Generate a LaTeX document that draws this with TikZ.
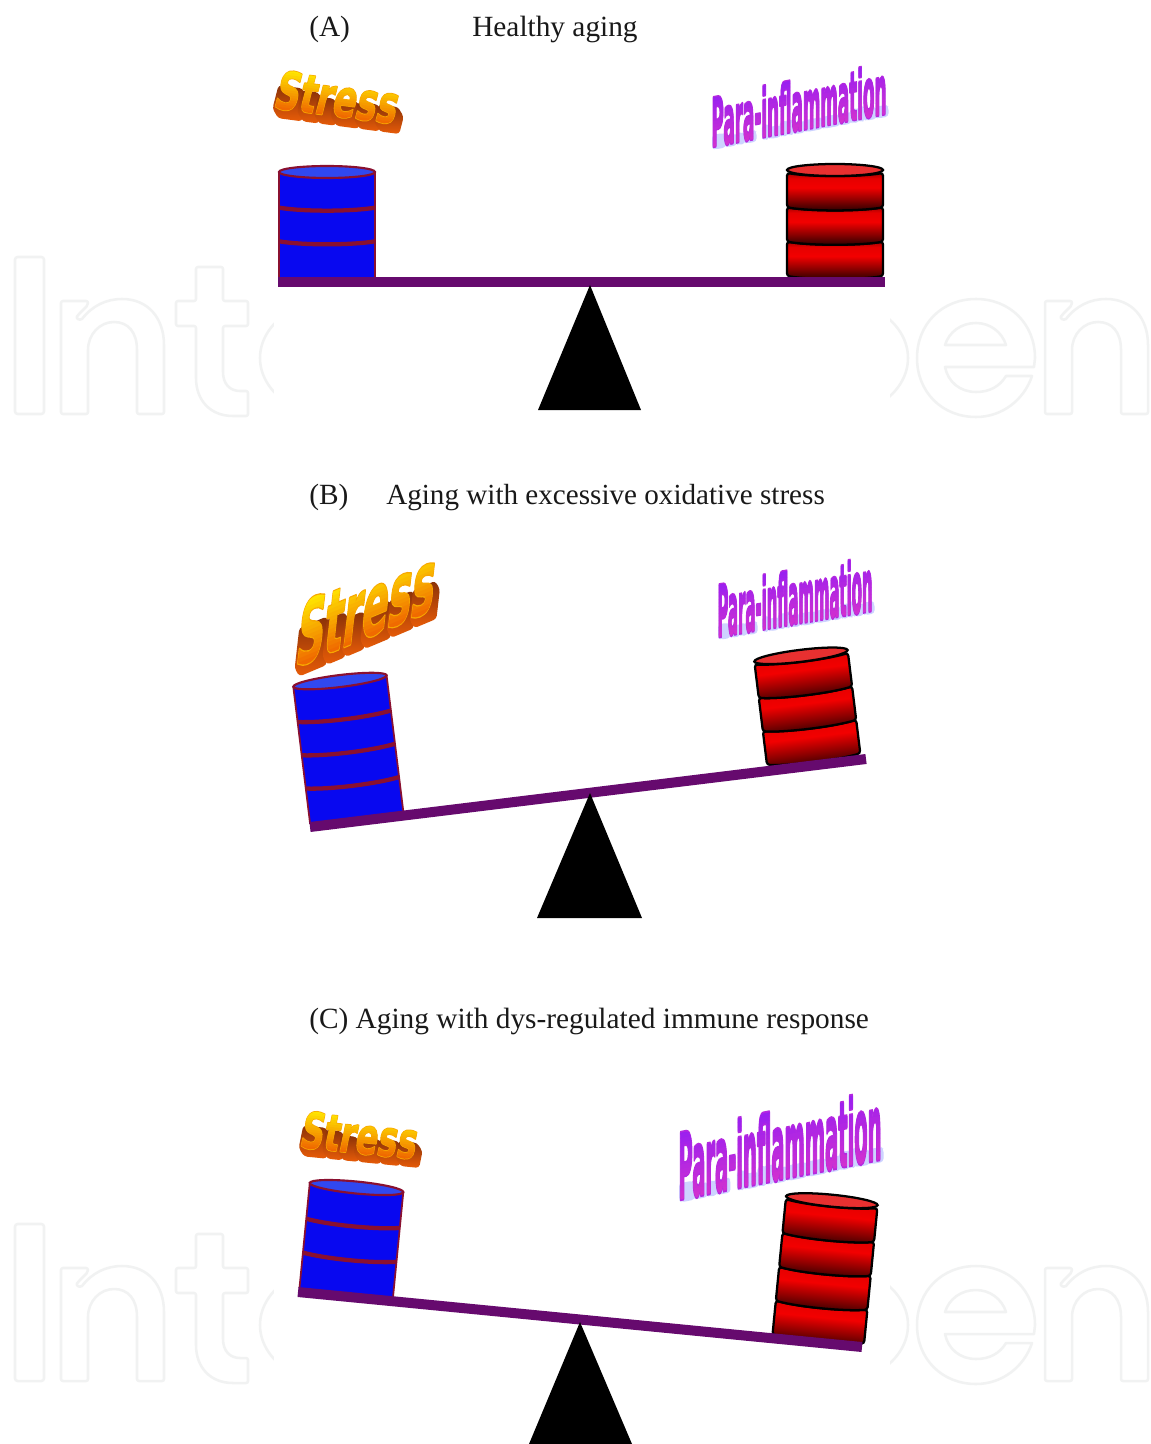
\documentclass[tikz,border=0pt]{standalone}
\usepackage{fontspec}
\usepackage{graphicx}
\setmainfont{Liberation Serif}
\newfontfamily\artfont{DejaVu Sans Bold}
\definecolor{beamc}{HTML}{660A6E}
\definecolor{bandc}{HTML}{8A1030}
\definecolor{bluec}{HTML}{0808F0}
\definecolor{bluetop}{HTML}{3048F0}
\definecolor{redtop}{HTML}{E83030}
\definecolor{markc}{HTML}{F1F2F2}
\definecolor{exa}{HTML}{8A3208}
\definecolor{exd}{HTML}{E85C08}
\definecolor{sta}{HTML}{FFE400}
\definecolor{ste}{HTML}{F06A00}
\definecolor{paa}{HTML}{9A20F0}
\definecolor{pac}{HTML}{D030D0}
\definecolor{pas}{HTML}{CDD3FF}
\pgfdeclareverticalshading{redseg}{100bp}{color(0bp)=(black!85!red); color(25bp)=(black!85!red); color(40bp)=(red!55!black); color(56bp)=(red!95!black); color(68bp)=(red!90!black); color(75bp)=(red!65!black); color(100bp)=(red!65!black)}
\tikzset{
 px/.style={x=0.75pt,y=-0.75pt},
 beamline/.style={draw=beamc,line width=7.5pt},
 fulcrum/.style={fill=black,draw=none},
 label/.style={anchor=base west,inner sep=0pt,font=\fontsize{22}{26}\selectfont,text=black!90},
 markline/.style={draw=markc,line width=1.9pt,line join=round,fill=none},
 artword/.style={inner sep=0pt,transform shape},
}
% arguments: cx, cy, rotation, H, half width, segments
\newcommand{\bluebarrel}[6]{%
 \begin{scope}[shift={(#1,#2)},rotate=#3]
  \pgfmathsetmacro{\ry}{6}\pgfmathsetmacro{\seg}{(#4-\ry)/#6}
  \fill[bluec] (-#5,-2) -- (#5,-2) -- (#5,-#4) -- (-#5,-#4) -- cycle;
  \pgfmathtruncatemacro{\nb}{#6-1}
  \foreach \k in {1,...,\nb}{
   \pgfmathsetmacro{\yy}{-\ry-\k*\seg+2}
   \draw[bandc,line width=3.2pt] (-#5,\yy) .. controls (-#5/2,\yy+4) and (#5/2,\yy+4) .. (#5,\yy);
  }
  \draw[bandc,line width=1.3pt] (-#5,-#4) -- (-#5,-2) (#5,-#4) -- (#5,-2);
  \draw[bandc,line width=1.6pt,fill=bluetop] (0,-#4) ellipse [x radius=#5,y radius=6];
 \end{scope}}
\newcommand{\redbarrel}[6]{%
 \begin{scope}[shift={(#1,#2)},rotate=#3]
  \pgfmathsetmacro{\ry}{6}\pgfmathsetmacro{\seg}{(#4-\ry)/#6}
  \foreach \k in {1,...,#6}{
   \pgfmathsetmacro{\yy}{-\ry-(\k-1)*\seg+3}
   \pgfmathsetmacro{\yt}{-\ry-\k*\seg+3}
   \draw[black,line width=1.7pt,rounded corners=2pt,shading=redseg,shading angle=#3] (-#5,\yy) .. controls (-#5/2,\yy+4) and (#5/2,\yy+4) .. (#5,\yy) -- (#5,\yt) .. controls (#5/2,\yt+4) and (-#5/2,\yt+4) .. (-#5,\yt) -- cycle;
  }
  \draw[black,line width=1.7pt,fill=redtop] (0,-#4) ellipse [x radius=#5,y radius=6];
 \end{scope}}
\newsavebox\artbox
\newlength\artw \newlength\artt \newlength\artd \newlength\arts
% one real text: stroked to make it heavier, then filled by a vertical gradient
% arguments: W, H (integers, px), text, top colour, bottom colour, stroke width
\newcommand{\gradword}[6]{%
 \resizebox{\dimexpr0.75pt*#1\relax}{\dimexpr0.75pt*#2\relax}{%
  \sbox\artbox{\fontsize{40}{40}\selectfont\artfont\color{#4!50!#5}#3}%
  \setlength\artw{\wd\artbox}\setlength\artt{\ht\artbox}\setlength\artd{\dp\artbox}%
  \setlength\arts{\dimexpr(\artt+\artd)/16\relax}%
  \special{x:gsave}\special{pdf:code 6 Tr #6 w 1 j}%
  \rlap{\usebox\artbox}%
  \special{pdf:code 0 Tr}%
  \foreach \i in {0,...,15}{%
   \pgfmathtruncatemacro{\pc}{\i*100/15}%
   \rlap{\color{#5!\pc!#4}\rule[\dimexpr\artt-\arts*\i-\arts\relax]{\artw}{1.15\arts}}%
  }%
  \special{x:grestore}%
  \hbox to \artw{\vrule width 0pt height \artt depth \artd\hfil}}}
% extrusion (non-text) behind a word; x0/x1/height are fractions of W and H
% arguments: W, H, dx, dy, style, share of the height covered, list
\newcommand{\sweep}[7]{%
 \foreach \xa/\xb/\hh in {#7}{
  \pgfmathsetmacro{\lx}{(\xa-0.5)*#1+0.5}
  \pgfmathsetmacro{\rx}{(\xb-0.5)*#1-0.5}
  \pgfmathsetmacro{\ty}{#2/2-\hh*#2*#6}
  \pgfmathsetmacro{\by}{#2/2}
  \path[#5,rounded corners=2.4pt] (\lx,\ty) -- (\rx,\ty) -- (\rx+#3,\ty+#4) -- (\rx+#3,\by+#4) -- (\lx+#3,\by+#4) -- (\lx,\by) -- cycle;
 }}
% arguments: x, y, rise of the baseline, W, H, dx, dy, lean
\newcommand{\stressart}[8]{%
 \begin{scope}[shift={(#1,#2)},yslant=#3,xslant=#8]
  \sweep{#4}{#5}{#6}{#7}{top color=exa,bottom color=exd,draw=none}{0.6}{0/.202/1,.202/.337/.92,.337/.476/.74,.476/.666/.74,.666/.833/.74,.833/1/.74}
  \node[artword] at (0,0) {\gradword{#4}{#5}{Stress}{sta}{ste}{1.2}};
 \end{scope}}
% arguments: x, y, rise of the baseline, W, H
\newcommand{\paraart}[5]{%
 \begin{scope}[shift={(#1,#2)},yslant=#3]
  \sweep{#4}{#5}{2.5}{2.5}{fill=pas}{0.25}{0/.070/.96,.070/.134/.74,.134/.181/.74,.181/.246/.74,.285/.318/1,.318/.386/.74,.386/.428/1,.428/.460/1,.460/.525/.74,.525/.624/.74,.624/.724/.74,.724/.788/.74,.788/.834/.92,.834/.866/1,.866/.932/.74,.932/1/.74}
  \node[artword] at (0,0) {\gradword{#4}{#5}{Para-inflammation}{paa}{pac}{1.6}};
 \end{scope}}
\newcommand{\markword}[1]{%
 \begin{scope}[yshift=#1*-0.75pt]
  \draw[markline,rounded corners=2pt] (15,257) rectangle (44,414);
  \foreach \dx in {0,984}{
   \draw[markline,xshift=\dx*0.75pt] (61,414) [rounded corners=1.5pt] -- (61,301) -- (88,301) -- (88,305) -- (78,315) [sharp corners] .. controls (76,318) and (79,321) .. (82,319) .. controls (92,306) and (106,299) .. (122,299) .. controls (148,299) and (164,318) .. (164,345) [rounded corners=1.5pt] -- (164,414) -- (137,414) [sharp corners] -- (137,350) .. controls (137,332) and (128,322) .. (114,322) .. controls (100,322) and (88,334) .. (88,350) [rounded corners=1.5pt] -- (88,414) -- cycle;
  }
  \draw[markline,rounded corners=1.5pt] (196,267) -- (223,267) -- (223,301) -- (248,301) -- (248,326) -- (223,326) [sharp corners] -- (223,372) .. controls (223,384) and (230,391) .. (240,391) [rounded corners=1.5pt] -- (248,391) -- (248,416) -- (235,416) [sharp corners] .. controls (210,416) and (196,400) .. (196,378) [rounded corners=1.5pt] -- (196,326) -- (176,326) -- (176,301) -- (196,301) -- cycle;
  \draw[markline] (340,358) ellipse [x radius=80,y radius=60];
  \draw[markline] (829,358) ellipse [x radius=79,y radius=60];
  \draw[markline] (1034,367) -- (945,367) .. controls (948,382) and (960,392) .. (976,392) .. controls (990,392) and (1000,386) .. (1006,376) -- (1032,376) .. controls (1024,400) and (1002,417) .. (976,417) .. controls (942,417) and (917,392) .. (917,358) .. controls (917,324) and (942,299) .. (976,299) .. controls (1010,299) and (1035,324) .. (1035,358) -- cycle;
  \draw[markline] (945,345) -- (1006,345) .. controls (1002,332) and (990,323) .. (976,323) .. controls (961,323) and (949,332) .. (945,345) -- cycle;
 \end{scope}}
\begin{document}
\begin{tikzpicture}[px]
\useasboundingbox (0,0) rectangle (1150,1444);
\fill[white] (0,0) rectangle (1150,1444);
% faint outlined lettering behind the panel
\markword{0}
\markword{967}
\fill[white] (274,0) rectangle (890,1444);
% labels
\node[label] (labA) at (309,37) {(A)};
\node[label] (titA) at (472,37) {Healthy aging};
\node[label] (labB) at (309,504) {(B)};
\node[label,font=\fontsize{21.85}{26}\selectfont] (titB) at (386,504) {Aging with excessive oxidative stress};
\node[label] (titC) at (309,1028) {(C) Aging with dys-regulated immune response};
% panel A
\bluebarrel{327}{279}{0}{107}{48}{3}
\redbarrel{835}{279}{0}{109}{48}{3}
\draw[beamline] (278,282) -- (885,282);
\fill[fulcrum] (590,285) -- (641,410) -- (538,410) -- cycle;
\stressart{338}{97}{-0.13}{122}{40}{8}{9}{0.25}
\paraart{799}{105}{0.19}{175}{52}
% panel B
\bluebarrel{357}{820}{7}{140}{47}{4}
\redbarrel{814}{762}{7}{107}{47}{3}
\draw[beamline] (310,827) -- (866,759);
\fill[fulcrum] (590,793) -- (642,918) -- (537,918) -- cycle;
\stressart{367}{606}{0.42}{138}{64}{6}{10}{0.12}
\paraart{795}{597}{0.17}{155}{55}
% panel C
\bluebarrel{346}{1295}{-5.6}{108}{47}{3}
\redbarrel{818}{1342}{-5.6}{142}{46}{4}
\draw[beamline] (298,1292) -- (862,1347);
\fill[fulcrum] (580,1322) -- (632,1444) -- (529,1444) -- cycle;
\stressart{360}{1135}{-0.1}{116}{38}{7}{8}{0.2}
\paraart{780}{1145}{0.2}{203}{70}
\end{tikzpicture}
\end{document}
